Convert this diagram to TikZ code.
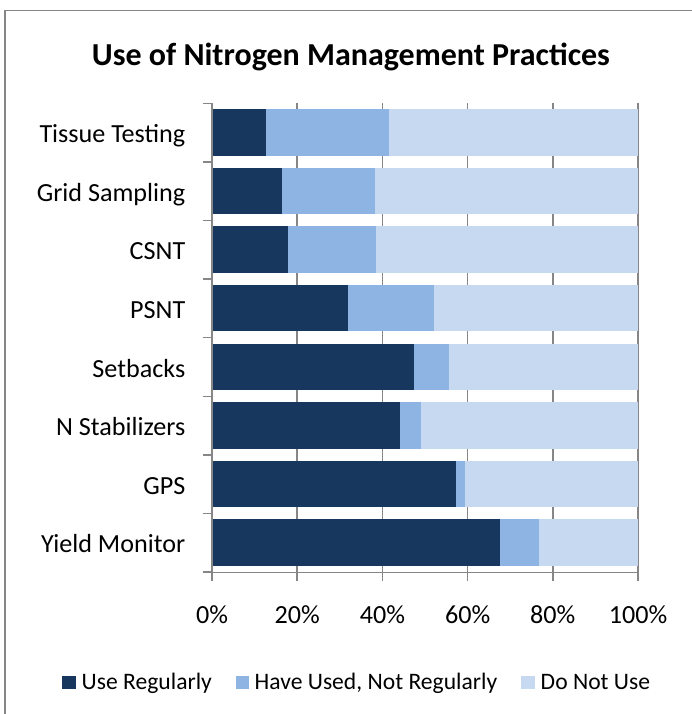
\documentclass[tikz,border=0pt]{standalone}
\usepackage{fontspec}
\setmainfont{Carlito}
\definecolor{useblue}{HTML}{17375E}
\definecolor{usedblue}{HTML}{8EB4E3}
\definecolor{nouseblue}{HTML}{C6D9F1}
\definecolor{axisgray}{HTML}{868686}

\begin{document}
\begin{tikzpicture}[x=0.75pt, y=-0.75pt, line width=1.1pt, font=\fontsize{19.6}{22}\selectfont]
  \useasboundingbox (0,0) rectangle (692,714);
  \draw[axisgray] (5,714) -- (5,10.7) -- (692,10.7);
  \node[anchor=base, font=\fontsize{24}{28}\selectfont\bfseries] (title) at (351,65) {Use of Nitrogen Management Practices};
  % gridlines and ticks
  \foreach \p in {0,20,...,100}
    \draw[axisgray] ({212+4.26*\p},103.3) -- ({212+4.26*\p},580.7);
  \draw[axisgray] (203,572.7) -- (638,572.7);
  \foreach \i in {0,...,8}
    \draw[axisgray] (203,{103.3+58.6*\i}) -- (212,{103.3+58.6*\i});
  % bars
  \foreach \name/\ur/\hu [count=\i from 0] in {Tissue Testing/12.7/41.5, Grid Sampling/16.4/38.3,
      CSNT/17.9/38.5, PSNT/32.0/52.0, Setbacks/47.3/55.6, N Stabilizers/44.1/49.0,
      GPS/57.3/59.4, Yield Monitor/67.6/76.8} {
    \fill[nouseblue] ({212+4.26*\hu},{109.2+58.6*\i}) rectangle (638,{155.5+58.6*\i});
    \fill[usedblue] ({212+4.26*\ur},{109.2+58.6*\i}) rectangle ({212+4.26*\hu},{155.5+58.6*\i});
    \fill[useblue] (212.6,{109.2+58.6*\i}) rectangle ({212+4.26*\ur},{155.5+58.6*\i});
    \node[anchor=base east, inner sep=0pt] (cat\i) at (186,{142.7+58.6*\i}) {\name};
  }
  \foreach \p [count=\j] in {0,20,...,100}
    \node[anchor=base, inner sep=0pt] (tick\j) at ({212+4.26*\p},623.3) {\p\%};
  % legend
  \begin{scope}[font=\fontsize{17.7}{20}\selectfont]
    \fill[useblue] (62,675.7) rectangle (76,689.3);
    \node[anchor=base west, inner sep=0pt] (leguse) at (81,689.3) {Use Regularly};
    \fill[usedblue] (235.5,675.7) rectangle (249.2,689.3);
    \node[anchor=base west, inner sep=0pt] (legused) at (254,689.3) {Have Used, Not Regularly};
    \fill[nouseblue] (521,675.7) rectangle (534.7,689.3);
    \node[anchor=base west, inner sep=0pt] (legnot) at (540,689.3) {Do Not Use};
  \end{scope}
\end{tikzpicture}
\end{document}
